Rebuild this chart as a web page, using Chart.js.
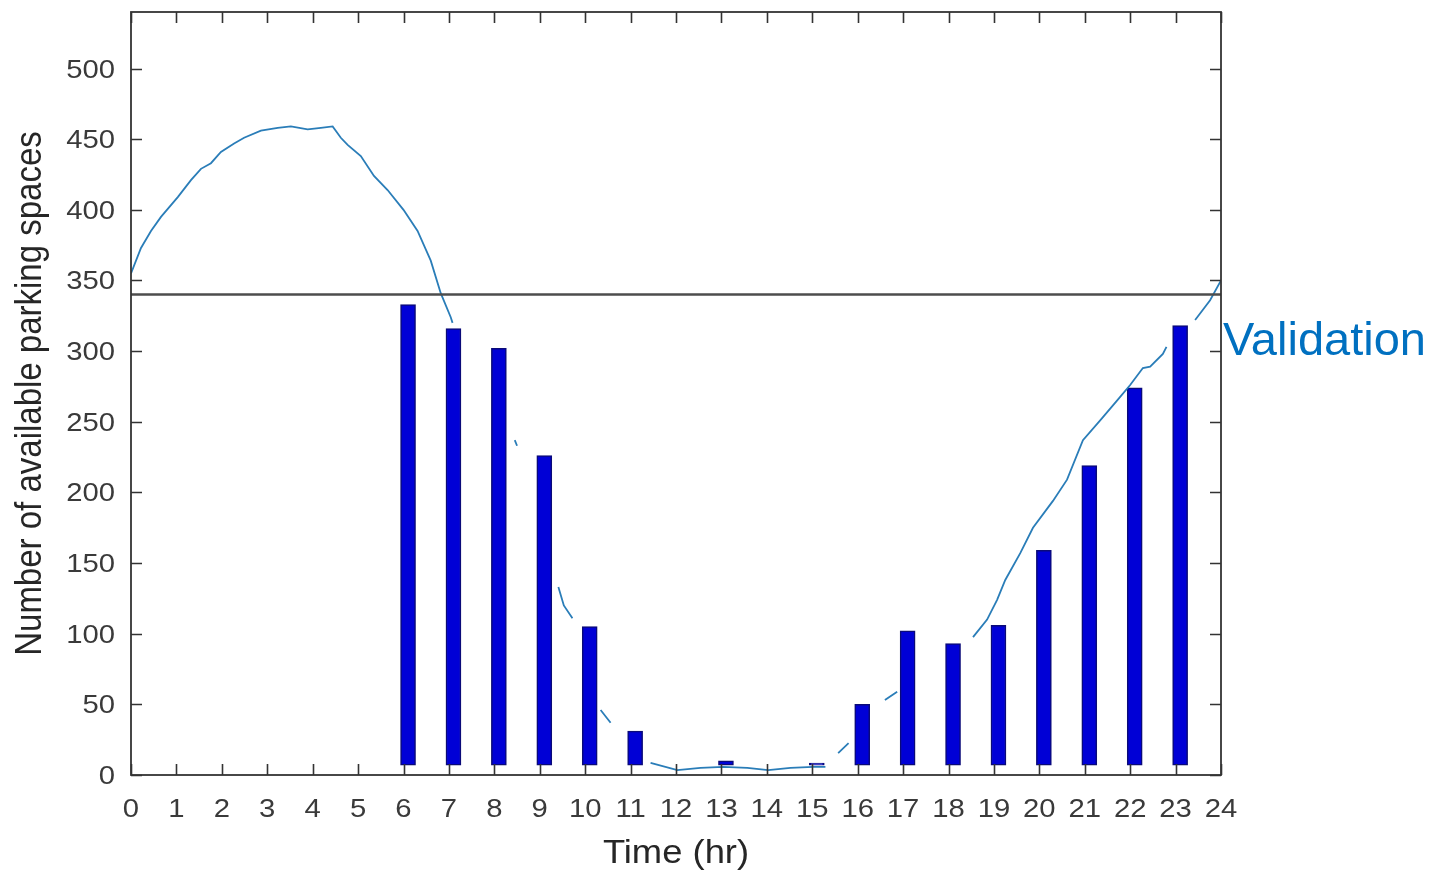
<!DOCTYPE html>
<html>
<head>
<meta charset="utf-8">
<script src="https://cdn.jsdelivr.net/npm/chart.js@4"></script>
<style>
  html, body { margin: 0; padding: 0; background: #ffffff; }
  #wrap { width: 1434px; height: 870px; position: relative; }
</style>
</head>
<body>
<div id="wrap"><canvas id="c" width="1434" height="870"></canvas></div>
<script>
// Hourly measured availability (bars)
const barHours  = [6, 7, 8, 9, 10, 11, 12, 13, 14, 15, 16, 17, 18, 19, 20, 21, 22, 23];
const barValues = [333, 316, 302, 226, 105, 31, 0, 10, 0, 8.5, 50, 102, 93, 106, 159, 219, 274, 318];
const barBase = 7;

// Simulated availability over the day (null = stretch not shown)
const curveHours = [
  0, 0.22, 0.44, 0.66, 1.03, 1.32, 1.54, 1.76, 1.98, 2.27,
  2.49, 2.86, 3.23, 3.52, 3.89, 4.18, 4.44, 4.62, 4.77, 5.06,
  5.35, 5.65, 6.0, 6.31, 6.6, 6.82, 7.04, 7.08, 7.6, 8.45,
  8.5, 9.0, 9.41, 9.53, 9.72, 10.0, 10.34, 10.56, 11.0, 11.44,
  12.03, 12.54, 13.04, 13.57, 14.03, 14.52, 15.02, 15.29, 15.45, 15.57,
  15.8, 16.2, 16.6, 16.87, 17.5, 18.54, 18.85, 19.07, 19.25, 19.58,
  19.86, 20.3, 20.61, 20.96, 21.34, 21.71, 22.0, 22.28, 22.44, 22.72,
  22.8, 23.1, 23.43, 23.76, 24
];
const curveValues = [
  355, 373, 385, 395, 409, 421, 429, 433, 441, 447,
  451, 456, 458, 459, 457, 458, 459, 451, 446, 438,
  424, 414, 400, 385, 364, 341, 324, 320, null, 237,
  233, null, 133, 120, 111, null, 46, 37, null, 8.5,
  3.5, 5, 5.7, 5, 3.5, 5, 5.7, 5.7, null, 15.5,
  22.6, null, 53, 59, null, 97.6, 110, 124, 138, 157,
  175, 194, 209, 237, 251, 265, 276, 288, 289, 298,
  303, null, 322, 336, 350
];

const capacityLevel = 340;
const xTickValues = [0,1,2,3,4,5,6,7,8,9,10,11,12,13,14,15,16,17,18,19,20,21,22,23,24];
const yTickValues = [0, 50, 100, 150, 200, 250, 300, 350, 400, 450, 500];
const xTitle = 'Time (hr)';
const yTitle = 'Number of available parking spaces';
const sideNote = 'Validation';

const BAR_SHIFT = 0.1;
const AXIS_COLOR = '#333333';
const LABEL_COLOR = '#3a3a3a';

// Box, inward ticks, tick labels, titles and the side note
const framePlugin = {
  id: 'frame',
  afterDraw(chart) {
    const { ctx, chartArea: a, scales } = chart;
    const xs = scales.x, ys = scales.y;
    const tl = 11;
    ctx.save();
    ctx.strokeStyle = AXIS_COLOR;
    ctx.lineWidth = 1.8;
    ctx.strokeRect(a.left, a.top, a.right - a.left, a.bottom - a.top);
    ctx.lineWidth = 1.6;
    ctx.beginPath();
    xTickValues.forEach(v => {
      const px = Math.round(xs.getPixelForValue(v)) + 0.5;
      ctx.moveTo(px, a.bottom); ctx.lineTo(px, a.bottom - tl);
      ctx.moveTo(px, a.top); ctx.lineTo(px, a.top + tl);
    });
    yTickValues.forEach(v => {
      const py = Math.round(ys.getPixelForValue(v)) + 0.5;
      ctx.moveTo(a.left, py); ctx.lineTo(a.left + tl, py);
      ctx.moveTo(a.right, py); ctx.lineTo(a.right - tl, py);
    });
    ctx.stroke();

    // tick labels (slightly wide lettering)
    ctx.fillStyle = LABEL_COLOR;
    ctx.font = '25px "Liberation Sans", Arial, sans-serif';
    ctx.textBaseline = 'alphabetic';
    const sx = 1.17;
    xTickValues.forEach(v => {
      ctx.save();
      ctx.translate(xs.getPixelForValue(v), a.bottom + 42);
      ctx.scale(sx, 1);
      ctx.textAlign = 'center';
      ctx.fillText(String(v), 0, 0);
      ctx.restore();
    });
    yTickValues.forEach(v => {
      ctx.save();
      ctx.translate(a.left - 16, ys.getPixelForValue(v) + 9);
      ctx.scale(sx, 1);
      ctx.textAlign = 'right';
      ctx.fillText(String(v), 0, 0);
      ctx.restore();
    });

    // axis titles
    ctx.fillStyle = '#262626';
    ctx.font = '34px "Liberation Sans", Arial, sans-serif';
    ctx.save();
    ctx.translate((a.left + a.right) / 2, a.bottom + 88);
    ctx.scale(1.07, 1);
    ctx.textAlign = 'center';
    ctx.fillText(xTitle, 0, 0);
    ctx.restore();

    ctx.font = '33px "Liberation Sans", Arial, sans-serif';
    ctx.save();
    ctx.translate(31, (a.top + a.bottom) / 2);
    ctx.scale(1.14, 1);
    ctx.rotate(-Math.PI / 2);
    ctx.textAlign = 'center';
    ctx.textBaseline = 'middle';
    ctx.fillText(yTitle, 0, 0);
    ctx.restore();

    // side note
    ctx.fillStyle = '#0070c0';
    ctx.font = '47px "Liberation Sans", Arial, sans-serif';
    ctx.textAlign = 'left';
    ctx.textBaseline = 'alphabetic';
    ctx.fillText(sideNote, a.right + 2, a.top + 343);
    ctx.restore();
  }
};

new Chart(document.getElementById('c'), {
  type: 'bar',
  data: {
    datasets: [
      {
        type: 'line',
        label: 'capacity',
        data: [{ x: 0, y: capacityLevel }, { x: 24, y: capacityLevel }],
        borderColor: '#4d4d4d',
        borderWidth: 2.5,
        pointRadius: 0,
        order: 0
      },
      {
        type: 'line',
        label: 'simulation',
        data: curveHours.map((h, i) => ({ x: h, y: curveValues[i] })),
        borderColor: '#2a7db8',
        borderWidth: 1.8,
        pointRadius: 0,
        spanGaps: false,
        tension: 0,
        order: 1
      },
      {
        type: 'bar',
        label: 'observed',
        data: barHours.map((h, i) => ({
          x: h + BAR_SHIFT,
          y: barValues[i] > barBase ? [barBase, barValues[i]] : null
        })),
        backgroundColor: '#0000d6',
        borderColor: '#0a0a78',
        borderWidth: 1.5,
        borderSkipped: false,
        barThickness: 15,
        order: 2
      }
    ]
  },
  options: {
    responsive: false,
    animation: false,
    devicePixelRatio: 1,
    layout: { padding: { left: 0, top: 12, right: 213, bottom: 0 } },
    plugins: { legend: { display: false }, tooltip: { enabled: false } },
    scales: {
      x: {
        type: 'linear',
        min: 0, max: 24,
        offset: false,
        grid: { display: false, drawTicks: false, offset: false },
        border: { display: false },
        ticks: { display: false },
        afterBuildTicks: s => { s.ticks = xTickValues.map(v => ({ value: v })); },
        afterFit: s => { s.height = 95; }
      },
      y: {
        type: 'linear',
        min: 0, max: 540,
        grid: { display: false, drawTicks: false },
        border: { display: false },
        ticks: { display: false },
        afterBuildTicks: s => { s.ticks = yTickValues.map(v => ({ value: v })); },
        afterFit: s => { s.width = 131; }
      }
    }
  },
  plugins: [framePlugin]
});
</script>
</body>
</html>
